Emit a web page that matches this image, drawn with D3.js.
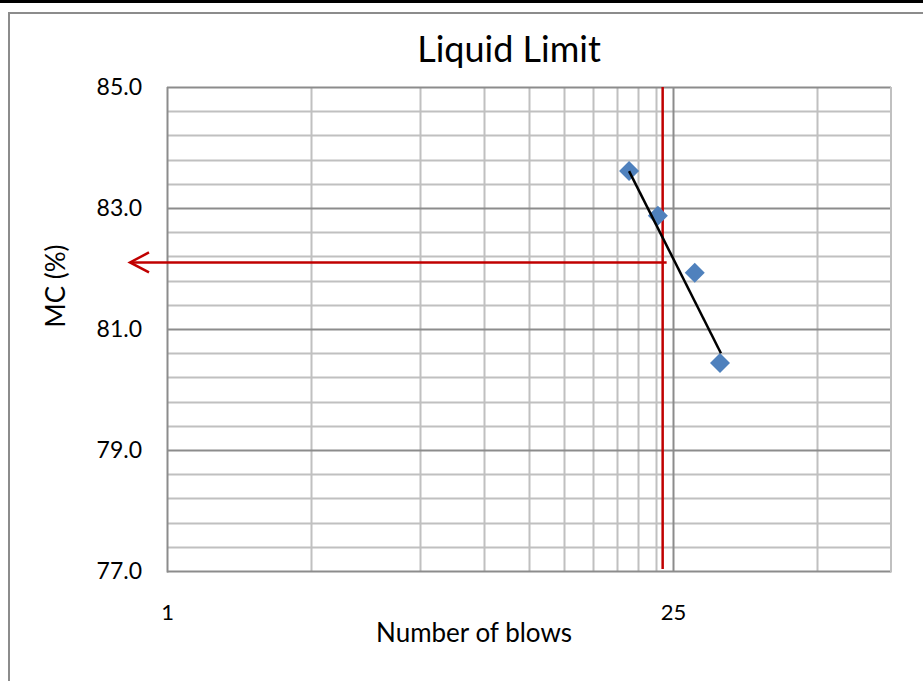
<!DOCTYPE html>
<html lang="en">
  <head>
    <meta charset="utf-8">
    <title>Liquid Limit</title>
    <script src="https://d3js.org/d3.v7.min.js"></script>
    <style>
      body { margin: 0; background: #fff; }
      text { font-family: Lato, "Open Sans", sans-serif; fill: #000; }
    </style>
  </head>
  <body>
    <svg width="923" height="681"></svg>
    <script type="text/javascript">
      // data
      var blows = [18.9, 22.7, 28.7, 33.7];
      var mc = [83.61, 82.87, 81.93, 80.44];
      // trendline ends (blows, mc)
      var trendBlows = [18.9, 33.9];
      var trendMC = [83.61, 80.60];
      // liquid limit guide lines
      var llBlows = 23.4, llMC = 82.1;

      var xTicks = [1, 25];
      var xMinor = [2.5, 5, 7.5, 10, 12.5, 15, 17.5, 20, 22.5, 62.5];
      var yTicks = [77, 79, 81, 83, 85];
      var yMinor = [77.4, 77.8, 78.2, 78.6, 79.4, 79.8, 80.2, 80.6, 81.4, 81.8, 82.2, 82.6, 83.4, 83.8, 84.2, 84.6];

      var svg = d3.select("svg");
      var pLeft = 167, pRight = 891, pTop = 87, pBottom = 571;

      var x = d3.scaleLog().domain([1, 100]).range([pLeft, pRight]);
      var y = d3.scaleLinear().domain([77, 85]).range([pBottom, pTop]);

      // page / chart frame
      svg.append("rect").attr("x", 0).attr("y", 0).attr("width", 923).attr("height", 3).attr("fill", "#000");
      svg.append("rect").attr("x", 9).attr("y", 13).attr("width", 930).attr("height", 700)
        .attr("fill", "none").attr("stroke", "#8c8c8c").attr("stroke-width", 2);

      function px(v) { return Math.round(v) + 0.5; }

      var grid = svg.append("g");
      grid.selectAll(".ymin").data(yMinor).enter().append("line")
        .attr("x1", pLeft).attr("x2", pRight)
        .attr("y1", function(d) { return px(y(d)); })
        .attr("y2", function(d) { return px(y(d)); })
        .attr("stroke", "#c0c0c0").attr("stroke-width", 2);
      grid.selectAll(".xmin").data(xMinor).enter().append("line")
        .attr("y1", pTop).attr("y2", pBottom)
        .attr("x1", function(d) { return px(x(d)); })
        .attr("x2", function(d) { return px(x(d)); })
        .attr("stroke", "#c0c0c0").attr("stroke-width", 2);
      grid.selectAll(".ymaj").data(yTicks).enter().append("line")
        .attr("x1", pLeft).attr("x2", pRight)
        .attr("y1", function(d) { return px(y(d)); })
        .attr("y2", function(d) { return px(y(d)); })
        .attr("stroke", "#8c8c8c").attr("stroke-width", 2);
      grid.selectAll(".xmaj").data([25]).enter().append("line")
        .attr("y1", pTop).attr("y2", pBottom)
        .attr("x1", function(d) { return px(x(d)); })
        .attr("x2", function(d) { return px(x(d)); })
        .attr("stroke", "#8c8c8c").attr("stroke-width", 2);
      // plot border
      grid.append("line").attr("x1", pLeft + 0.5).attr("x2", pLeft + 0.5).attr("y1", pTop).attr("y2", pBottom + 1.5)
        .attr("stroke", "#8c8c8c").attr("stroke-width", 2);
      grid.append("line").attr("x1", pRight).attr("x2", pRight).attr("y1", pTop).attr("y2", pBottom + 1.5)
        .attr("stroke", "#c0c0c0").attr("stroke-width", 2);

      // axes
      var xAxis = svg.append("g").attr("transform", "translate(0," + pBottom + ")")
        .call(d3.axisBottom(x).tickValues(xTicks).tickFormat(d3.format("d")).tickSize(0).tickPadding(33));
      xAxis.select(".domain").remove();
      xAxis.selectAll("text").style("font-size", "22px").style("font-family", "Lato, sans-serif");

      var yAxis = svg.append("g").attr("transform", "translate(" + pLeft + ",0)")
        .call(d3.axisLeft(y).tickValues(yTicks).tickFormat(d3.format(".1f")).tickSize(0).tickPadding(25));
      yAxis.select(".domain").remove();
      yAxis.selectAll("text").style("font-size", "23px").style("font-family", "Lato, sans-serif");

      // red guide lines
      var red = "#c00000";
      svg.append("line").attr("x1", x(llBlows)).attr("x2", x(llBlows)).attr("y1", pTop).attr("y2", pBottom - 2)
        .attr("stroke", red).attr("stroke-width", 2.5);
      var arrowTip = pLeft - 37;
      svg.append("line").attr("x1", x(llBlows) + 4).attr("x2", arrowTip).attr("y1", y(llMC)).attr("y2", y(llMC))
        .attr("stroke", red).attr("stroke-width", 2.5);
      svg.append("path")
        .attr("d", "M" + (arrowTip + 19) + "," + (y(llMC) - 10) + "L" + arrowTip + "," + y(llMC) + "L" + (arrowTip + 19) + "," + (y(llMC) + 10))
        .attr("fill", "none").attr("stroke", red).attr("stroke-width", 2.5);

      // points
      var pts = blows.map(function(b, i) { return { n: b, mc: mc[i] }; });
      svg.selectAll(".pt").data(pts).enter().append("path")
        .attr("d", "M0,-10L10,0L0,10L-10,0Z")
        .attr("transform", function(d) { return "translate(" + x(d.n) + "," + y(d.mc) + ")"; })
        .attr("fill", "#4f81bd");

      // trendline
      var line = d3.line().x(function(d) { return x(d[0]); }).y(function(d) { return y(d[1]); });
      svg.append("path").datum(d3.zip(trendBlows, trendMC)).attr("d", line)
        .attr("fill", "none").attr("stroke", "#000").attr("stroke-width", 2.5);

      // titles
      svg.append("text").attr("x", 509).attr("y", 62).attr("text-anchor", "middle")
        .style("font-size", "36px").text("Liquid Limit");
      svg.append("text").attr("x", 474).attr("y", 642).attr("text-anchor", "middle")
        .style("font-size", "26px").text("Number of blows");
      svg.append("text").attr("transform", "translate(65,286) rotate(-90)").attr("text-anchor", "middle")
        .style("font-size", "26px").text("MC (%)");
    </script>
  </body>
</html>
